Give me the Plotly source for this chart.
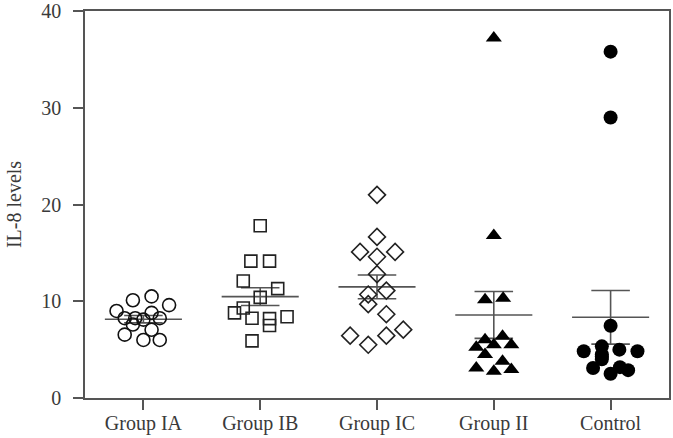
import numpy as np
import plotly.graph_objects as go

categories = ["Group IA", "Group IB", "Group IC", "Group II", "Control"]

group_ia = [9.0, 10.1, 10.5, 9.6, 8.25, 8.25, 8.1, 8.8, 8.25, 7.6, 7.05, 6.55, 6.0, 6.0]
group_ia_jitter = [-0.23, -0.09, 0.07, 0.22, -0.16, -0.07, 0.0, 0.07, 0.14, -0.09, 0.07, -0.16, 0.0, 0.14]

group_ib = [17.8, 14.15, 14.15, 12.1, 11.3, 10.4, 9.3, 8.8, 8.25, 8.2, 7.5, 8.4, 5.9]
group_ib_jitter = [0.0, -0.08, 0.08, -0.145, 0.15, 0.0, -0.145, -0.22, -0.07, 0.08, 0.08, 0.23, -0.07]

group_ic = [21.0, 16.65, 15.1, 15.1, 14.6, 12.8, 11.1, 10.7, 9.7, 8.66, 7.06, 6.44, 6.44, 5.5]
group_ic_jitter = [0.0, 0.0, -0.145, 0.155, 0.0, 0.0, 0.08, -0.075, -0.075, 0.08, 0.225, -0.23, 0.08, -0.075]

group_ii = [37.2, 16.8, 10.15, 10.3, 6.03, 6.37, 5.24, 5.5, 5.5, 4.5, 3.1, 2.77, 3.8, 2.95]
group_ii_jitter = [0.0, 0.0, -0.075, 0.08, -0.075, 0.075, -0.15, 0.0, 0.15, -0.075, -0.15, 0.0, 0.075, 0.15]

control = [35.8, 29.0, 7.47, 5.34, 4.3, 4.83, 5.0, 4.83, 3.1, 2.5, 3.19, 2.88, 4.5, 4.0]
control_jitter = [0.0, 0.0, 0.0, -0.075, -0.075, -0.23, 0.075, 0.23, -0.15, 0.0, 0.08, 0.15, -0.075, -0.075]

groups = [group_ia, group_ib, group_ic, group_ii, control]
jitters = [group_ia_jitter, group_ib_jitter, group_ic_jitter, group_ii_jitter, control_jitter]

y_ticks = [0, 10, 20, 30, 40]

marker_styles = [
    dict(symbol="circle-open", size=13, color="#111", line=dict(width=1.6, color="#111")),
    dict(symbol="square-open", size=12, color="#222", line=dict(width=1.6, color="#222")),
    dict(symbol="diamond-open", size=13, color="#222", line=dict(width=1.6, color="#222")),
    dict(symbol="triangle-up", size=14, color="#000", line=dict(width=0)),
    dict(symbol="circle", size=14, color="#000", line=dict(width=0)),
]

LINE_COLOR = "#555555"
FONT = "Liberation Serif"
FONT_SIZE = 20

fig = go.Figure()

mean_half = 0.33
cap_half = 0.165

for i, vals in enumerate(groups):
    arr = np.array(vals, dtype=float)
    m = arr.mean()
    sem = arr.std(ddof=1) / np.sqrt(len(arr))
    xs = [i - mean_half, i + mean_half, None,
          i, i, None,
          i - cap_half, i + cap_half, None,
          i - cap_half, i + cap_half]
    ys = [m, m, None,
          m - sem, m + sem, None,
          m + sem, m + sem, None,
          m - sem, m - sem]
    fig.add_trace(go.Scatter(x=xs, y=ys, mode="lines",
                             line=dict(color=LINE_COLOR, width=1.6),
                             hoverinfo="skip", showlegend=False))

for i, (vals, jit) in enumerate(zip(groups, jitters)):
    fig.add_trace(go.Scatter(
        x=[i + j for j in jit], y=vals, mode="markers",
        marker=marker_styles[i], showlegend=False, name=categories[i]))

fig.update_layout(
    width=673, height=438,
    margin=dict(l=85, r=4, t=11, b=40),
    paper_bgcolor="white", plot_bgcolor="white",
    font=dict(family=FONT, size=FONT_SIZE, color="#3a3a3a"),
)

fig.update_xaxes(
    range=[-0.5, 4.5], tickvals=list(range(len(categories))), ticktext=categories,
    showline=True, linecolor=LINE_COLOR, linewidth=1.6, mirror=True,
    ticks="outside", ticklen=10, tickwidth=1.6, tickcolor=LINE_COLOR,
    showgrid=False, zeroline=False, ticklabelstandoff=-4,
    automargin=False, ticklabeloverflow="allow",
)
fig.update_yaxes(
    range=[0, 40.0001], tickvals=y_ticks, ticktext=[str(t) for t in y_ticks],
    showline=True, linecolor=LINE_COLOR, linewidth=1.6, mirror=True,
    ticks="outside", ticklen=10, tickwidth=1.6, tickcolor=LINE_COLOR,
    showgrid=False, zeroline=False, ticklabelstandoff=8,
    automargin=False, ticklabeloverflow="allow",
    title=dict(text="IL-8 levels", standoff=14, font=dict(family=FONT, size=FONT_SIZE, color="#3a3a3a")),
)

fig.write_html("out.html")
